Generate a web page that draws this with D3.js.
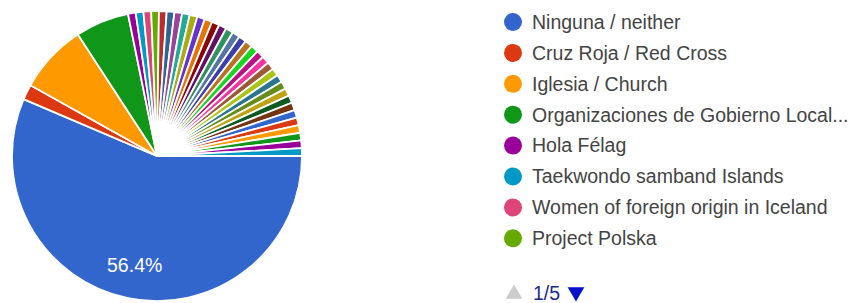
<!DOCTYPE html>
<html>
<head>
<meta charset="utf-8">
<script src="https://cdn.jsdelivr.net/npm/d3@7"></script>
<style>
  body { margin: 0; background: #fff; }
  svg { display: block; font-family: "Liberation Sans", Arial, sans-serif; }
</style>
</head>
<body>
<svg id="chart" width="856" height="303"></svg>
<script>
// categorias (solo la primera pagina de la leyenda es visible)
var categories = [
  "Ninguna / neither", "Cruz Roja / Red Cross", "Iglesia / Church",
  "Organizaciones de Gobierno Local / Local Government Organizations",
  "Hola Félag", "Taekwondo samband Islands", "Women of foreign origin in Iceland",
  "Project Polska",
  "Otra 9", "Otra 10", "Otra 11", "Otra 12", "Otra 13", "Otra 14", "Otra 15",
  "Otra 16", "Otra 17", "Otra 18", "Otra 19", "Otra 20", "Otra 21", "Otra 22",
  "Otra 23", "Otra 24", "Otra 25", "Otra 26", "Otra 27", "Otra 28", "Otra 29",
  "Otra 30", "Otra 31", "Otra 32", "Otra 33", "Otra 34", "Otra 35", "Otra 36",
  "Otra 37"
];
// respuestas por categoria
var values = [
  66, 2, 9, 7,
  1, 1, 1, 1, 1, 1, 1, 1, 1, 1, 1, 1, 1, 1, 1, 1, 1,
  1, 1, 1, 1, 1, 1, 1, 1, 1, 1, 1, 1, 1, 1, 1, 1
];
var legendPage = 1, legendPages = 5, perPage = 8;

// paleta por defecto de Google Charts
var palette = ["#3366cc","#dc3912","#ff9900","#109618","#990099","#0099c6","#dd4477",
  "#66aa00","#b82e2e","#316395","#994499","#22aa99","#aaaa11","#6633cc","#e67300",
  "#8b0707","#651067","#329262","#5574a6","#3b3eac","#b77322","#16d620","#b91383",
  "#f4359e","#9c5935","#a9c413","#2a778d","#668d1c","#bea413","#0c5922","#743411"];
var color = d3.scaleOrdinal().domain(d3.range(values.length)).range(palette);

var svg = d3.select("#chart");
var cx = 157, cy = 156, R = 145;
var total = d3.sum(values);

var pie = d3.pie().sort(null)
  .startAngle(Math.PI / 2)
  .endAngle(Math.PI / 2 + 2 * Math.PI);
var arc = d3.arc().innerRadius(0).outerRadius(R);
var labelArc = d3.arc().innerRadius(R * 0.77).outerRadius(R * 0.77);

var g = svg.append("g").attr("transform", "translate(" + cx + "," + cy + ")");

g.selectAll("path")
  .data(pie(values))
  .enter()
  .append("path")
  .attr("d", arc)
  .attr("fill", function(d, i) { return color(i); })
  .attr("stroke", "#fff")
  .attr("stroke-width", 1.8);

// porcentaje solo en los sectores grandes
var fmt = d3.format(".1%");
g.selectAll("text.pct")
  .data(pie(values).filter(function(d) { return d.value / total > 0.2; }))
  .enter()
  .append("text")
  .attr("class", "pct")
  .attr("transform", function(d) { return "translate(" + labelArc.centroid(d) + ")"; })
  .attr("text-anchor", "middle")
  .attr("dy", "0.35em")
  .attr("fill", "#fff")
  .attr("font-size", 19.5)
  .text(function(d) { return fmt(d.value / total); });

// leyenda
var lx = 513, ly = 22, step = 30.9, fs = 19.5, maxW = 318;
var pageItems = categories.slice((legendPage - 1) * perPage, legendPage * perPage);

var leg = svg.append("g").selectAll("g")
  .data(pageItems)
  .enter()
  .append("g")
  .attr("transform", function(d, i) { return "translate(" + lx + "," + (ly + i * step) + ")"; });

leg.append("circle")
  .attr("r", 9)
  .attr("fill", function(d, i) { return color((legendPage - 1) * perPage + i); });

leg.append("text")
  .attr("x", 19)
  .attr("dy", "0.35em")
  .attr("font-size", fs)
  .attr("fill", "#444")
  .text(function(d) { return d; })
  .each(function(d) {
    // recortar con "..." si no cabe
    var t = d3.select(this), s = d;
    if (this.getComputedTextLength() <= maxW) return;
    while (s.length > 1) {
      s = s.slice(0, -1);
      t.text(s.replace(/\s+$/, "") + "...");
      if (this.getComputedTextLength() <= maxW) break;
    }
  });

// paginador
var py = 293;
svg.append("path")
  .attr("d", d3.symbol().type(d3.symbolTriangle).size(120)())
  .attr("transform", "translate(" + (lx + 1) + "," + (py + 1) + ")")
  .attr("fill", "#cccccc");
svg.append("text")
  .attr("x", lx + 20).attr("y", py).attr("dy", "0.35em")
  .attr("font-size", fs).attr("fill", "#1a2a8a")
  .text(legendPage + "/" + legendPages);
svg.append("path")
  .attr("d", d3.symbol().type(d3.symbolTriangle).size(120)())
  .attr("transform", "translate(" + (lx + 63) + "," + (py - 1) + ") rotate(180)")
  .attr("fill", "#0011cc");
</script>
</body>
</html>
